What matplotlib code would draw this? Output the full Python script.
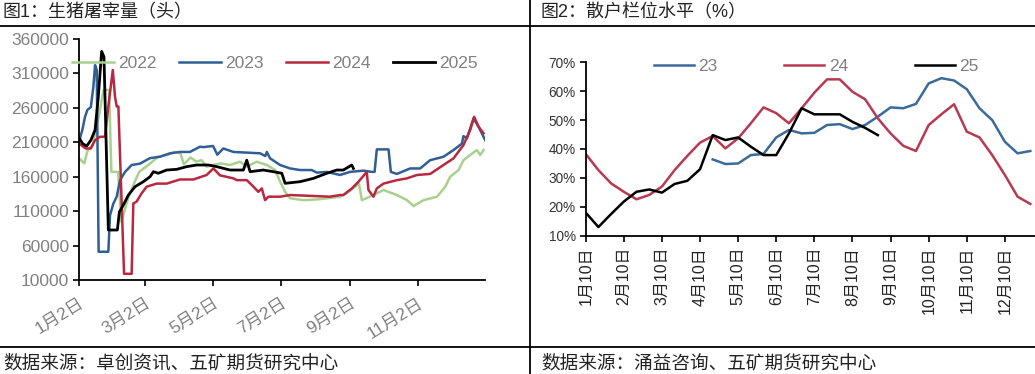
import matplotlib
matplotlib.use("Agg")
import matplotlib.pyplot as plt
from matplotlib.lines import Line2D

plt.rcParams['font.family'] = ['Liberation Sans', 'Noto Sans CJK SC', 'DejaVu Sans']

# ---------------- Left chart data (day offset from 1月2日, head count) ----------------
days_2022 = [0, 4.8, 7.8, 12.3, 18, 22, 27, 29, 35, 38, 44, 50, 54, 62, 71, 80, 86, 91, 94, 100, 105,
             110, 114.5, 126.5, 135.4, 144.4, 150.4, 159.3, 168.4, 175.8, 180.3, 184.8, 189.3, 201.2,
             213.2, 222.2, 234, 240, 248, 251, 253.6, 264, 273, 285, 294, 300, 309, 321, 328.4, 332.8,
             340.3, 344.7, 350.7, 356.7, 359.7, 362.7]
vals_2022 = [186700, 179400, 199000, 206000, 250000, 286000, 286000, 167000, 167000, 94600, 128600,
             152800, 167000, 177000, 189000, 192000, 196000, 194000, 178000, 188000, 182000, 184000,
             174600, 179400, 177000, 181800, 174600, 181800, 177000, 169700, 152800, 138000, 128600,
             126000, 127000, 128600, 131000, 136000, 146000, 150000, 126000, 133400, 140700, 133400,
             126000, 117400, 126000, 131000, 145500, 160000, 169700, 184000, 191500, 198800, 191500,
             198800]

days_2023 = [0.3, 3, 5.4, 7.5, 10.6, 12.9, 14.4, 15.9, 17.6, 26.3, 27.8, 30.8, 33.8, 36.8, 41.3, 47.2,
             54.7, 63.7, 72.6, 81.6, 90.6, 99.5, 108.5, 111.5, 120.2, 124, 129.4, 138.4, 150.4, 162.4,
             167, 168.4, 171.3, 180.3, 189.3, 198.2, 208.7, 213.2, 222.2, 234, 243, 255, 262.5, 265,
             267, 277.5, 279.6, 285, 296.9, 305.9, 314.8, 326.8, 335.8, 343.3, 344.7, 347.8, 353.7,
             358.2, 364.2]
vals_2023 = [213000, 228000, 247000, 257000, 261000, 291000, 322000, 315000, 51000, 51000, 104000,
             121000, 131000, 155000, 167000, 177000, 179000, 187000, 189000, 194000, 196000, 196000,
             203600, 203000, 204600, 192000, 201000, 196000, 195000, 194000, 190000, 196000, 186700,
             177000, 172000, 169700, 169700, 166000, 167000, 162500, 167000, 168800, 167000, 167000,
             199700, 199700, 167000, 164000, 172000, 172000, 184000, 189000, 198800, 208000, 219000,
             215700, 244700, 232600, 213000]

days_2024 = [0.3, 6, 10.6, 14.4, 18.8, 23.3, 26.3, 30.3, 32.3, 33.8, 35.3, 40.4, 47.2, 48.7, 51.7,
             56.2, 60.7, 69.6, 78.6, 90.6, 102.5, 105.5, 114.4, 120.5, 126.4, 138.4, 141.4, 150.4,
             154.9, 160.8, 163.9, 166.8, 169.8, 180.3, 189.3, 210.2, 225, 234, 237, 244.6, 250.6, 258,
             259.5, 264, 267, 273, 285, 294, 303, 314.8, 326.8, 335.8, 344.7, 350.7, 354.3, 358.2,
             362.7]
vals_2024 = [208000, 201000, 201000, 213000, 218000, 218000, 262000, 315000, 276000, 262000, 262000,
             19000, 19000, 121000, 124000, 136000, 145500, 150000, 150000, 156000, 156000, 157600,
             162500, 172000, 162000, 157600, 155000, 155000, 148000, 138000, 143000, 126000, 131000,
             131000, 133400, 132000, 131000, 133400, 133400, 143000, 152800, 167000, 140700, 131000,
             143000, 150000, 155000, 157600, 162500, 164000, 177000, 186700, 206000, 227800, 247000,
             232600, 223000]

days_2025 = [0.3, 3.3, 6.9, 10.6, 14.4, 17.3, 20.3, 22.4, 26.3, 34.4, 36.2, 39.8, 44.3, 50.2, 57.7,
             63.7, 66.7, 71.1, 78.6, 87.6, 96.5, 105.5, 116, 123.5, 135.4, 147.4, 150.4, 153.4, 165.3,
             174.3, 181.8, 184.8, 198.2, 210.2, 222.2, 231.1, 237, 244.6, 246]
vals_2025 = [215700, 208000, 204600, 213000, 227800, 276000, 342000, 334000, 82600, 82600, 109000,
             119000, 133400, 145500, 152800, 160000, 167300, 165000, 169700, 170700, 174600, 177000,
             177000, 174600, 169700, 169700, 184000, 167300, 169700, 167300, 165000, 150400, 152800,
             157600, 165000, 169700, 169700, 177000, 172000]

left_ticks = [0, 59, 120, 181, 243, 304]
left_ticklabels = ['1月2日', '3月2日', '5月2日', '7月2日', '9月2日', '11月2日']
left_yticks = [10000, 60000, 110000, 160000, 210000, 260000, 310000, 360000]

# ---------------- Right chart data (dekads from 1月10日, %) ----------------
right_ticklabels = ['1月10日', '2月10日', '3月10日', '4月10日', '5月10日', '6月10日',
                    '7月10日', '8月10日', '9月10日', '10月10日', '11月10日', '12月10日']
s23_start = 10
s23 = [36.4, 34.8, 35.0, 37.9, 38.3, 44.0, 46.6, 45.4, 45.6, 48.3, 48.6, 46.9, 48.3, 51.2, 54.4,
       54.1, 55.6, 62.7, 64.5, 63.7, 60.7, 54.1, 50.0, 42.5, 38.5, 39.3]
s24 = [38.3, 32.7, 28.1, 25.2, 22.6, 24.1, 27.0, 32.7, 37.6, 42.2, 44.5, 40.2, 43.7, 48.9, 54.4,
       52.4, 48.9, 54.1, 59.5, 64.1, 64.1, 59.8, 57.2, 50.6, 45.4, 41.1, 39.3, 48.3, 52.0, 55.5,
       46.0, 44.0, 37.9, 31.0, 23.5, 21.0]
s25 = [18.0, 13.0, 17.5, 21.8, 25.2, 26.0, 24.9, 27.9, 29.0, 33.0, 44.8, 43.1, 44.0, 40.8, 37.9,
       37.9, 45.4, 54.1, 52.0, 52.0, 52.0, 49.4, 47.3, 44.8]

W, H = 1035, 374
fig = plt.figure(figsize=(W / 100, H / 100), dpi=100)

def fx(px):
    return px / W

def fy(py):
    return 1 - py / H

# dividers
fig.add_artist(Line2D([0, 1], [fy(26), fy(26)], color='black', lw=1.3))
fig.add_artist(Line2D([0, 1], [fy(347), fy(347)], color='black', lw=1.3))
fig.add_artist(Line2D([fx(530), fx(530)], [0, 1], color='black', lw=1.3))

fig.text(fx(3), fy(13), '图1：生猪屠宰量（头）', fontsize=13, va='center', ha='left', color='#222222')
fig.text(fx(540), fy(13), '图2：散户栏位水平（%）', fontsize=13, va='center', ha='left', color='#222222')
fig.text(fx(3), fy(364), '数据来源：卓创资讯、五矿期货研究中心', fontsize=13.4, va='center', ha='left', color='#222222')
fig.text(fx(541), fy(364), '数据来源：涌益咨询、五矿期货研究中心', fontsize=13.4, va='center', ha='left', color='#222222')

# ---------------- Left axes ----------------
axL = fig.add_axes([fx(79), fy(280), fx(485) - fx(79), fy(39) - fy(280)])
c22, c23, c24, c25 = '#a9d18e', '#2f5f96', '#b8283f', '#000000'
l22, = axL.plot(days_2022, vals_2022, color=c22, lw=1.8, label='2022')
l23, = axL.plot(days_2023, vals_2023, color=c23, lw=1.8, label='2023')
l24, = axL.plot(days_2024, vals_2024, color=c24, lw=1.8, label='2024')
l25, = axL.plot(days_2025, vals_2025, color=c25, lw=2.0, label='2025')
axL.set_xlim(0, 364)
axL.set_ylim(10000, 360000)
axL.set_yticks(left_yticks)
axL.set_yticklabels([str(v) for v in left_yticks])
axL.set_xticks(left_ticks)
axL.set_xticklabels(left_ticklabels, rotation=32, ha='right', rotation_mode='anchor')
for s in ['top', 'right']:
    axL.spines[s].set_visible(False)
for s in ['left', 'bottom']:
    axL.spines[s].set_linewidth(1.3)
axL.tick_params(axis='y', labelsize=12.5, colors='black', labelcolor='#808080', length=4, width=1.2, pad=3)
axL.tick_params(axis='x', labelsize=12.5, colors='black', labelcolor='#808080', length=4, width=1.2, pad=7)
fig.legend(handles=[l22, l23, l24, l25], loc='center left', bbox_to_anchor=(fx(72), fy(63)),
           ncol=4, frameon=False, fontsize=12.5, labelcolor='#808080', handlelength=2.4,
           handletextpad=0.25, columnspacing=1.3, borderpad=0, borderaxespad=0)

# ---------------- Right axes ----------------
axR = fig.add_axes([fx(585.7), fy(235.7), 1 - fx(585.7), fy(62.3) - fy(235.7)])
r23, r24, r25 = '#3c6a9a', '#b73a50', '#000000'
x23 = [(s23_start + i) / 3 for i in range(len(s23))]
x24 = [i / 3 for i in range(len(s24))]
x25 = [i / 3 for i in range(len(s25))]
h23, = axR.plot(x23, s23, color=r23, lw=1.8, label='23')
h24, = axR.plot(x24, s24, color=r24, lw=1.8, label='24')
h25, = axR.plot(x25, s25, color=r25, lw=1.8, label='25')
axR.set_xlim(0, 11.79)
axR.set_ylim(10, 70)
axR.set_yticks(range(10, 71, 10))
axR.set_yticklabels([f'{v}%' for v in range(10, 71, 10)])
axR.set_xticks(range(12))
axR.set_xticklabels(right_ticklabels, rotation=90, ha='center', va='top')
for s in ['top', 'right']:
    axR.spines[s].set_visible(False)
for s in ['left', 'bottom']:
    axR.spines[s].set_linewidth(1.3)
axR.tick_params(axis='y', labelsize=9.8, colors='black', labelcolor='#333333', length=4, width=1.2, pad=3)
axR.tick_params(axis='x', labelsize=11.5, colors='black', labelcolor='#222222', length=4, width=1.2, pad=4)
fig.legend(handles=[h23, h24, h25], loc='center left', bbox_to_anchor=(fx(654), fy(66)),
           ncol=3, frameon=False, fontsize=12.5, labelcolor='#808080', handlelength=2.3,
           handletextpad=0.25, columnspacing=3.85, borderpad=0, borderaxespad=0)

fig.savefig('out.png', dpi=100)
